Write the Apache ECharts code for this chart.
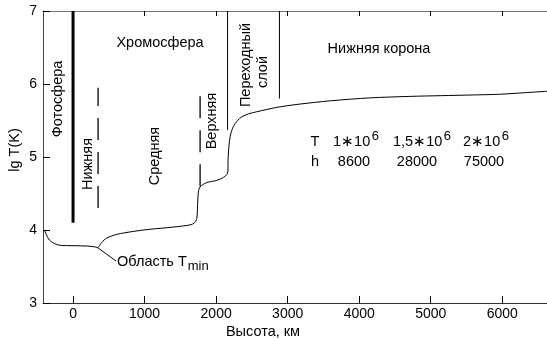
<!DOCTYPE html>
<html><head><meta charset="utf-8">
<script src="https://cdn.jsdelivr.net/npm/echarts@6/dist/echarts.min.js"></script>
<style>html,body{margin:0;padding:0;background:#fff}#c{width:547px;height:341px}</style>
</head><body><div id="c"></div>
<script>
// Data
const xTicks = [0, 1000, 2000, 3000, 4000, 5000, 6000];
const yTicks = [3, 4, 5, 6, 7];
const heightKm = [-400, -370, -330, -290, -250, -180, 0, 200, 300, 340, 400, 471, 611, 839, 1077, 1399, 1636, 1700, 1730, 1744, 1752, 1776, 1870, 2010, 2102, 2150, 2164, 2168, 2196, 2242, 2300, 2359, 2450, 2569, 2849, 3129, 3600, 4154, 4700, 5133, 5600, 5972, 6300, 6625];
const lgT = [4.00, 3.93, 3.86, 3.83, 3.81, 3.79, 3.785, 3.78, 3.77, 3.76, 3.83, 3.89, 3.94, 3.98, 4.01, 4.04, 4.07, 4.10, 4.16, 4.41, 4.52, 4.59, 4.65, 4.68, 4.72, 4.76, 4.80, 5.00, 5.28, 5.42, 5.50, 5.55, 5.59, 5.62, 5.68, 5.72, 5.77, 5.81, 5.83, 5.84, 5.85, 5.86, 5.88, 5.90];
// boundary lines: [x, yFrom, yTo]
const photosphereLine = [0, 4.1, 7];
const lowerBoundary = [350, 4.3, 5.95];
const upperBoundary = [1776, 4.6, 5.97];
const transitionStart = [2160, 5.37, 7];
const transitionEnd = [2885, 5.8, 7];
const tableT = ['1∗10', '1,5∗10', '2∗10'];
const tableExp = ['6', '6', '6'];
const tableH = ['8600', '28000', '75000'];

const FONT = '"Liberation Sans", Arial, sans-serif';
const FS = 14.5;
const chart = echarts.init(document.getElementById('c'), null, {renderer: 'canvas'});

const mctx = document.createElement('canvas').getContext('2d');
function textW(s, size) { mctx.font = size + 'px ' + FONT; return mctx.measureText(s).width; }

function vline(p, width, type) {
  return {
    type: 'line', data: [[p[0], p[1]], [p[0], p[2]]], symbol: 'none', silent: true,
    lineStyle: {color: '#000', width: width, type: type}, z: 3
  };
}

const t = (text, x, y, rot, extra) => Object.assign({
  type: 'text', x: x, y: y, rotation: rot ? Math.PI / 2 : 0,
  style: Object.assign({text: text, fill: '#000', font: FS + 'px ' + FONT, align: 'center', verticalAlign: 'middle'}, extra || {})
});

const graphics = [
  t('Хромосфера', 160, 43),
  t('Нижняя корона', 379, 49),
  t('Фотосфера', 58, 99, true),
  t('Нижняя', 88, 164, true),
  t('Средняя', 155, 156, true),
  t('Верхняя', 212, 121, true),
  t('Переходный', 246, 65, true),
  t('слой', 263, 72, true),
  t('lg T(K)', 15, 150, true),
  t('Высота, км', 263, 332),
  t('T', 315, 142),
  t('h', 315, 162),
  t('Область T', 117, 262, false, {align: 'left'}),
  t('min', 117 + textW('Область T', FS) + 1, 266, false, {align: 'left', font: '13px ' + FONT}),
  {type: 'line', shape: {x1: 97.5, y1: 247.5, x2: 116, y2: 261}, style: {stroke: '#000', lineWidth: 1}}
];
const tLeft = [333, 393, 463];
const hCenter = [354, 417, 484];
tableT.forEach((s, i) => {
  graphics.push(t(s, tLeft[i], 142, false, {align: 'left'}));
  graphics.push(t(tableExp[i], tLeft[i] + textW(s, FS) + 1.5, 136, false, {align: 'left', font: '13px ' + FONT}));
  graphics.push(t(tableH[i], hCenter[i], 162));
});

chart.setOption({
  animation: false,
  backgroundColor: '#fff',
  grid: {left: 43, top: 11, right: 0, bottom: 38, containLabel: false},
  xAxis: [{
    type: 'value', min: -420, max: 6625, position: 'bottom',
    axisLine: {show: true, onZero: false, lineStyle: {color: '#333', width: 1}},
    axisTick: {show: true, inside: true, length: 7, lineStyle: {color: '#000'}, customValues: xTicks},
    axisLabel: {show: true, color: '#000', fontSize: 14, fontFamily: FONT, margin: 4, customValues: xTicks, formatter: v => String(v)},
    splitLine: {show: false}
  }, {
    type: 'value', min: -420, max: 6625, position: 'top',
    axisLine: {show: true, onZero: false, lineStyle: {color: '#777', width: 1}},
    axisTick: {show: true, inside: true, length: 5, lineStyle: {color: '#000'}, customValues: xTicks},
    axisLabel: {show: false},
    splitLine: {show: false}
  }],
  yAxis: {
    type: 'value', min: yTicks[0], max: yTicks[yTicks.length - 1], interval: 1,
    axisLine: {show: true, onZero: false, lineStyle: {color: '#444', width: 1}},
    axisTick: {show: true, inside: true, length: 7, lineStyle: {color: '#000'}},
    axisLabel: {color: '#000', fontSize: 14, fontFamily: FONT, margin: 6},
    splitLine: {show: false}
  },
  series: [
    {
      type: 'line', data: heightKm.map((h, i) => [h, lgT[i]]), symbol: 'none', smooth: 0.3,
      lineStyle: {color: '#000', width: 1}, z: 4
    },
    vline(photosphereLine, 3, 'solid'),
    vline(lowerBoundary, 1.3, [22, 12]),
    vline(upperBoundary, 1.3, [22, 12]),
    vline(transitionStart, 1, 'solid'),
    vline(transitionEnd, 1, 'solid')
  ],
  graphic: graphics
});
</script></body></html>
